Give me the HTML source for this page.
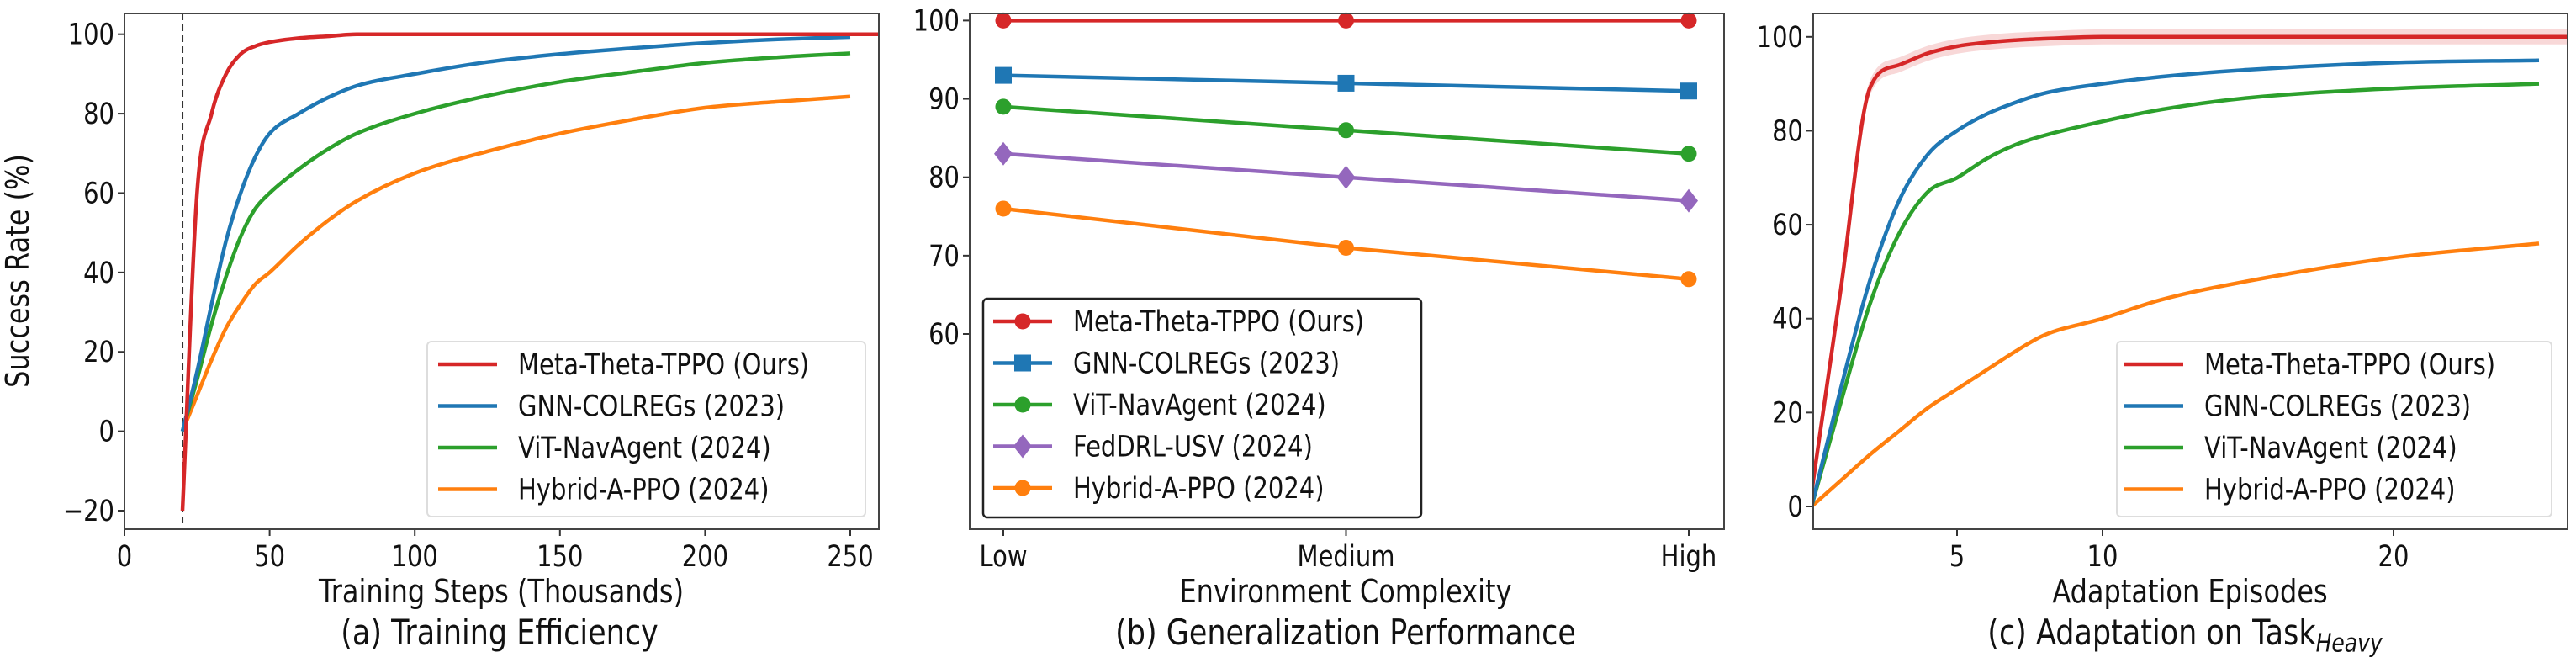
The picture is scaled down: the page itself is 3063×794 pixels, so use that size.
<!DOCTYPE html>
<html><head><meta charset="utf-8"><style>
html,body{margin:0;padding:0;background:#fff;}
svg{display:block;font-family:"DejaVu Sans","Liberation Sans",sans-serif;}
</style></head><body>
<svg id="fig" width="3063" height="794" viewBox="0 0 3063 794" xmlns="http://www.w3.org/2000/svg"></svg>
<script>
// ---- Panel (a) data ----
const aSteps = [20,25,30,35,40,45,50,60,70,80,100,125,150,175,200,225,250];
const aRed = [-20,60,80,90,95,97,98,99,99.5,100,100,100,100,100,100,100,100];
const aBlue = [0,15,32,48,60,69,75,80,84,87,90,93,95,96.5,97.8,98.7,99.3];
const aGreen = [0,13,27,39,49,56,60,66,71,75,80,84.5,88,90.5,92.8,94.2,95.2];
const aOrange = [0,9,18,26,32,37,40,47,53,58,65,70.5,75,78.5,81.5,83,84.3];
const aXTicks = [0,50,100,150,200,250];
const aYTicks = [-20,0,20,40,60,80,100];
// ---- Panel (b) data ----
const bCats = ["Low","Medium","High"];
const bRed = [100,100,100];
const bBlue = [93,92,91];
const bGreen = [89,86,83];
const bPurple = [83,80,77];
const bOrange = [76,71,67];
const bYTicks = [60,70,80,90,100];
// ---- Panel (c) data ----
const cEp = [0,1,2,3,4,5,6,7,8,10,12,15,20,25];
const cRed = [3,46,89,94,96.5,98,98.8,99.3,99.6,100,100,100,100,100];
const cBlue = [0,25,48,65,75,80,83.5,86,88,90,91.5,93,94.5,95];
const cGreen = [0,22,43,58,67,70,74,77,79,82,84.5,87,89,90];
const cOrange = [0,5.5,11,16,21,25,29,33,36.5,40,44,48,53,56];
const cXTicks = [5,10,20];
const cYTicks = [0,20,40,60,80,100];
const legA = ["Meta-Theta-TPPO (Ours)","GNN-COLREGs (2023)","ViT-NavAgent (2024)","Hybrid-A-PPO (2024)"];
const legB = ["Meta-Theta-TPPO (Ours)","GNN-COLREGs (2023)","ViT-NavAgent (2024)","FedDRL-USV (2024)","Hybrid-A-PPO (2024)"];

const C = {red:"#d62728",blue:"#1f77b4",green:"#2ca02c",orange:"#ff7f0e",purple:"#9467bd"};
const NS="http://www.w3.org/2000/svg";
const fig=document.getElementById('fig');
const SY=1.2;
function el(tag,attrs,parent){const e=document.createElementNS(NS,tag);for(const k in attrs)e.setAttribute(k,attrs[k]);(parent||fig).appendChild(e);return e;}
function lin(d0,d1,r0,r1){return v=>r0+(v-d0)*(r1-r0)/(d1-d0);}
function path(xs,ys,sx,sy){return xs.map((x,i)=>(i?'L':'M')+sx(x).toFixed(1)+','+sy(ys[i]).toFixed(1)).join(' ');}
// monotone cubic (Fritsch-Carlson) in pixel space
function smooth(xs,ys,sx,sy){
 const X=xs.map(sx),Y=ys.map(sy),n=X.length;
 const d=[],m=[];
 for(let i=0;i<n-1;i++)d.push((Y[i+1]-Y[i])/(X[i+1]-X[i]));
 m[0]=d[0];m[n-1]=d[n-2];
 for(let i=1;i<n-1;i++){m[i]=(d[i-1]*d[i]<=0)?0:(d[i-1]+d[i])/2;}
 for(let i=0;i<n-1;i++){if(d[i]===0){m[i]=0;m[i+1]=0;continue;}
  const a=m[i]/d[i],b=m[i+1]/d[i],s=a*a+b*b;if(s>9){const t=3/Math.sqrt(s);m[i]=t*a*d[i];m[i+1]=t*b*d[i];}}
 let p='M'+X[0].toFixed(1)+','+Y[0].toFixed(1);
 for(let i=0;i<n-1;i++){const h=(X[i+1]-X[i])/3;
  p+=` C${(X[i]+h).toFixed(1)},${(Y[i]+m[i]*h).toFixed(1)} ${(X[i+1]-h).toFixed(1)},${(Y[i+1]-m[i+1]*h).toFixed(1)} ${X[i+1].toFixed(1)},${Y[i+1].toFixed(1)}`;}
 return p;}
function mkText(g,x,y,s,size,anchor,extra){const t=el('text',Object.assign({x:0,y:0,'font-size':size,'text-anchor':anchor,fill:'#111',transform:`translate(${x},${y}) scale(1,${SY})`},extra||{}),g);t.textContent=s;return t;}

function frame(g,L,T,R,B){const r=el('rect',{x:L,y:T,width:R-L,height:B-T,fill:'none',stroke:'#444','stroke-width':2},g);

}
function ytick(g,L,y,label){el('line',{x1:L-8,y1:y,x2:L,y2:y,stroke:'#333','stroke-width':2},g);
const t=mkText(g,L-12,y+12,label,29,'end');

}
function xtick(g,x,B,label){el('line',{x1:x,y1:B,x2:x,y2:B+8,stroke:'#333','stroke-width':2},g);
const t=mkText(g,x,B+44,label,29,'middle');

}
function txt(g,x,y,s,size,name){const t=mkText(g,x,y,s,size,'middle');

return t;}
function series(g,xs,ys,sx,sy,col,name,straight){const p=el('path',{d:straight?path(xs,ys,sx,sy):smooth(xs,ys,sx,sy),fill:'none',stroke:col,'stroke-width':4.5,'stroke-linejoin':'round','stroke-linecap':'butt'},g);

return p;}
function legendBox(g,x,y,w,h,dark){const r=el('rect',{x:x,y:y,width:w,height:h,rx:5,fill:'#fff','fill-opacity':dark?1:0.85,stroke:dark?'#222':'#ddd','stroke-width':dark?2.5:2},g);

}
function legendEntry(g,x,y,col,label,marker){const gg=el('g',{},g);


el('line',{x1:x,y1:y,x2:x+70,y2:y,stroke:col,'stroke-width':4.5},gg);
if(marker)drawMarker(gg,x+35,y,marker,col);
mkText(gg,x+95,y+12,label,29,'start');}
function drawMarker(g,cx,cy,m,col){
 if(m==='o')el('circle',{cx:cx,cy:cy,r:9.5,fill:col},g);
 else if(m==='s')el('rect',{x:cx-10,y:cy-10,width:20,height:20,fill:col},g);
 else if(m==='d')el('polygon',{points:`${cx},${cy-14} ${cx+11},${cy} ${cx},${cy+14} ${cx-11},${cy}`,fill:col},g);}

// ===== Panel A =====
(function(){
 const g=el('g',{});
 const L=148,R=1045,T=16,B=629;
 const sx=lin(0,250,148,1011), sy=lin(100,-20,40.7,607);
 aYTicks.forEach(v=>ytick(g,L,sy(v),v<0?'\u221220':String(v)));
 aXTicks.forEach(v=>xtick(g,sx(v),B,String(v)));
 const clip=el('clipPath',{id:'ca'},g);el('rect',{x:L,y:T,width:R-L,height:B-T},clip);
 const pg=el('g',{'clip-path':'url(#ca)'},g);
 const vl=el('line',{x1:sx(20),y1:T,x2:sx(20),y2:B,stroke:'#333','stroke-width':2,'stroke-dasharray':'8,5'},pg);
 
 
 series(pg,aSteps,aOrange,sx,sy,C.orange,'line-hybrid-a-ppo');
 series(pg,aSteps,aGreen,sx,sy,C.green,'line-vit-navagent');
 series(pg,aSteps,aBlue,sx,sy,C.blue,'line-gnn-colregs');
 series(pg,aSteps.concat([262]),aRed.concat([100]),sx,sy,C.red,'line-meta-theta-tppo');
 frame(g,L,T,R,B);
 legendBox(g,508,406,521,208,false);
 [C.red,C.blue,C.green,C.orange].forEach((c,i)=>legendEntry(g,521,433+i*49.5,c,legA[i]));
 const yl=el('text',{x:0,y:0,'font-size':32,'text-anchor':'middle',fill:'#111',transform:`translate(34,322) rotate(-90) scale(1,${SY})`},g);
 yl.textContent='Success Rate (%)';
 
 
 txt(g,596,716,'Training Steps (Thousands)',32,'x-axis-title');
 txt(g,594,766,'(a) Training Efficiency',35,'caption-a');
})();

// ===== Panel B =====
(function(){
 const g=el('g',{});
 const L=1153,R=2050,T=16,B=629;
 const sx=i=>1193+i*(2008-1193)/(bCats.length-1), sy=lin(100,60,24.4,397);
 bYTicks.forEach(v=>ytick(g,L,sy(v),String(v)));
 bCats.forEach((c,i)=>xtick(g,sx(i),B,c));
 const idx=bCats.map((c,i)=>i);
 const S=[[bRed,C.red,'o','meta-theta-tppo'],[bBlue,C.blue,'s','gnn-colregs'],[bGreen,C.green,'o','vit-navagent'],[bPurple,C.purple,'d','feddrl-usv'],[bOrange,C.orange,'o','hybrid-a-ppo']];
 S.forEach(([vals,col,m,n])=>{
  series(g,idx,vals,sx,sy,col,'line-'+n,true);
  vals.forEach((v,i)=>{const mg=el('g',{},g);
   
   
   drawMarker(mg,sx(i),sy(v),m,col);});
 });
 frame(g,L,T,R,B);
 legendBox(g,1169,355,521,260,true);
 S.forEach(([v,col,m],i)=>legendEntry(g,1181,382+i*49.5,col,legB[i],m));
 txt(g,1600,716,'Environment Complexity',32,'x-axis-title');
 txt(g,1600,766,'(b) Generalization Performance',35,'caption-b');
})();

// ===== Panel C =====
(function(){
 const g=el('g',{});
 const L=2156,R=3053,T=16,B=629;
 const sx=lin(0,25,2154,3019), sy=lin(100,0,43.8,602);
 cYTicks.forEach(v=>ytick(g,L,sy(v),String(v)));
 cXTicks.forEach(v=>xtick(g,sx(v),B,String(v)));
 const clip=el('clipPath',{id:'cc'},g);el('rect',{x:L,y:T,width:R-L,height:B-T},clip);
 const pg=el('g',{'clip-path':'url(#cc)'},g);
 const xs=cEp.concat([27]), ys=cRed.concat([100]);
 const bandUp=ys.map(v=>v+1.6), bandDn=ys.map(v=>v-1.6);
 const dUp=smooth(xs,bandUp,sx,sy);
 const dDn=smooth(xs.slice().reverse(),bandDn.slice().reverse(),sx,sy).replace(/^M/,'L');
 const band=el('path',{d:dUp+' '+dDn+' Z',fill:C.red,'fill-opacity':0.18},pg);
 
 
 series(pg,cEp,cOrange,sx,sy,C.orange,'line-hybrid-a-ppo');
 series(pg,cEp,cGreen,sx,sy,C.green,'line-vit-navagent');
 series(pg,cEp,cBlue,sx,sy,C.blue,'line-gnn-colregs');
 series(pg,xs,ys,sx,sy,C.red,'line-meta-theta-tppo');
 frame(g,L,T,R,B);
 legendBox(g,2517,406,517,208,false);
 [C.red,C.blue,C.green,C.orange].forEach((c,i)=>legendEntry(g,2526,433+i*49.5,c,legA[i]));
 txt(g,2604,716,'Adaptation Episodes',32,'x-axis-title');
 const cap=el('text',{x:0,y:0,'font-size':35,'text-anchor':'middle',fill:'#111',transform:`translate(2598,766) scale(1,${SY})`},g);
 
 
 cap.appendChild(document.createTextNode('(c) Adaptation on Task'));
 const sub=el('tspan',{'font-size':25,'font-style':'italic',dy:7},cap);sub.textContent='Heavy';
})();
</script>
</body></html>
